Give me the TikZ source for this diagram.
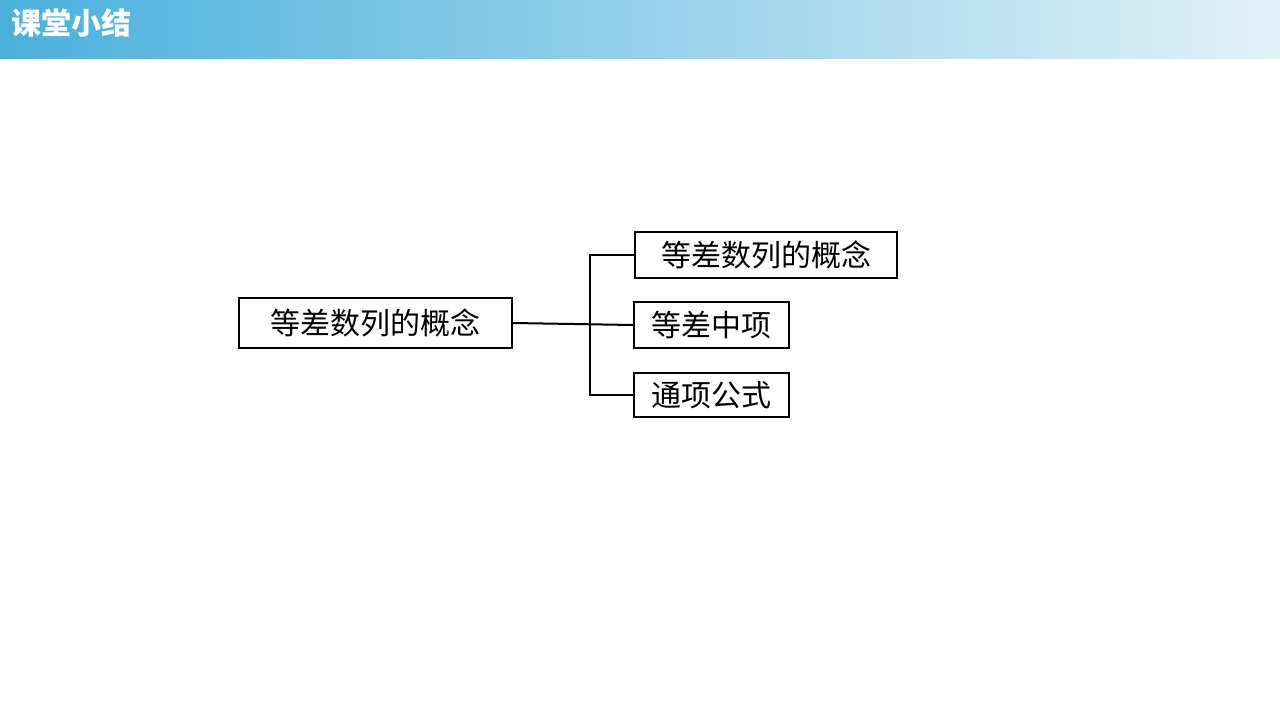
\documentclass[tikz,border=0pt]{standalone}
\usepackage{fontspec}
\setmainfont{Noto Sans CJK SC}
\newfontfamily\cjkbold[FakeBold=1.5]{Noto Sans CJK SC}
\begin{document}
\begin{tikzpicture}[x=1pt,y=-1pt,
  bx/.style={draw,line width=2pt,inner sep=0pt,font=\fontsize{30}{30}\selectfont,anchor=north west},
  ln/.style={line width=2pt}]
\useasboundingbox (0,0) rectangle (1280,720);
\fill[white] (0,0) rectangle (1280,720);
\shade[left color={rgb,255:red,74;green,176;blue,220}, right color={rgb,255:red,225;green,242;blue,249}] (0,0) rectangle (1280,58);
\node[anchor=west,text=white,font=\fontsize{30}{30}\selectfont\bfseries] (title) at (8,23) {课堂小结};
\node[bx,minimum width=273,minimum height=50] (m) at (238,297) {等差数列的概念};
\node[bx,minimum width=262,minimum height=46] (a) at (634,231) {等差数列的概念};
\node[bx,minimum width=155,minimum height=46] (b) at (633,301) {等差中项};
\node[bx,minimum width=155,minimum height=44] (c) at (633,372) {通项公式};
\coordinate (j) at (590,324);
\draw[ln] (m.east) -- (b.west);
\draw[ln] (a.west) -| (j) |- (c.west);
\end{tikzpicture}
\end{document}
